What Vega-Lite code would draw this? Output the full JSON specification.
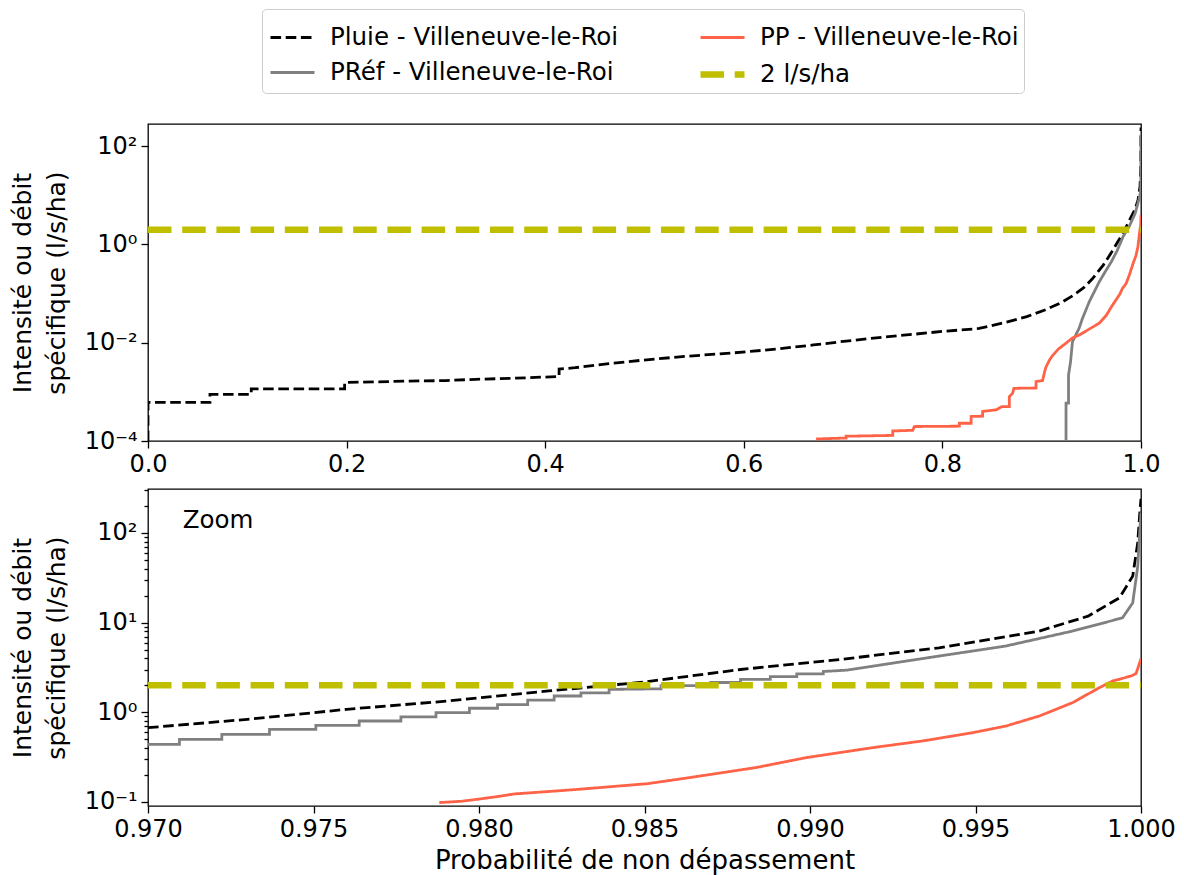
{
  "$schema": "https://vega.github.io/schema/vega-lite/v6.json",
  "background": "white",
  "padding": {"left": 9, "top": 7, "right": 10, "bottom": 4},
  "spacing": 48,
  "bounds": "flush",
  "datasets": {
    "top": [
      {"p": 0, "v": 0.0001, "s": "Pluie - Villeneuve-le-Roi"},
      {"p": 0.00001, "v": 0.00061, "s": "Pluie - Villeneuve-le-Roi"},
      {"p": 0.0624, "v": 0.00061, "s": "Pluie - Villeneuve-le-Roi"},
      {"p": 0.06241, "v": 0.00089, "s": "Pluie - Villeneuve-le-Roi"},
      {"p": 0.104, "v": 0.00089, "s": "Pluie - Villeneuve-le-Roi"},
      {"p": 0.10401, "v": 0.00115, "s": "Pluie - Villeneuve-le-Roi"},
      {"p": 0.198, "v": 0.00115, "s": "Pluie - Villeneuve-le-Roi"},
      {"p": 0.19801, "v": 0.00155, "s": "Pluie - Villeneuve-le-Roi"},
      {"p": 0.26, "v": 0.00165, "s": "Pluie - Villeneuve-le-Roi"},
      {"p": 0.30, "v": 0.0017, "s": "Pluie - Villeneuve-le-Roi"},
      {"p": 0.33, "v": 0.0018, "s": "Pluie - Villeneuve-le-Roi"},
      {"p": 0.37, "v": 0.0019, "s": "Pluie - Villeneuve-le-Roi"},
      {"p": 0.414, "v": 0.00205, "s": "Pluie - Villeneuve-le-Roi"},
      {"p": 0.41401, "v": 0.0029, "s": "Pluie - Villeneuve-le-Roi"},
      {"p": 0.43, "v": 0.0031, "s": "Pluie - Villeneuve-le-Roi"},
      {"p": 0.462, "v": 0.0037, "s": "Pluie - Villeneuve-le-Roi"},
      {"p": 0.502, "v": 0.0045, "s": "Pluie - Villeneuve-le-Roi"},
      {"p": 0.542, "v": 0.0053, "s": "Pluie - Villeneuve-le-Roi"},
      {"p": 0.589, "v": 0.0062, "s": "Pluie - Villeneuve-le-Roi"},
      {"p": 0.632, "v": 0.0074, "s": "Pluie - Villeneuve-le-Roi"},
      {"p": 0.67, "v": 0.009, "s": "Pluie - Villeneuve-le-Roi"},
      {"p": 0.703, "v": 0.0108, "s": "Pluie - Villeneuve-le-Roi"},
      {"p": 0.74, "v": 0.013, "s": "Pluie - Villeneuve-le-Roi"},
      {"p": 0.77, "v": 0.0148, "s": "Pluie - Villeneuve-le-Roi"},
      {"p": 0.80, "v": 0.017, "s": "Pluie - Villeneuve-le-Roi"},
      {"p": 0.837, "v": 0.0195, "s": "Pluie - Villeneuve-le-Roi"},
      {"p": 0.864, "v": 0.026, "s": "Pluie - Villeneuve-le-Roi"},
      {"p": 0.885, "v": 0.034, "s": "Pluie - Villeneuve-le-Roi"},
      {"p": 0.904, "v": 0.047, "s": "Pluie - Villeneuve-le-Roi"},
      {"p": 0.92, "v": 0.066, "s": "Pluie - Villeneuve-le-Roi"},
      {"p": 0.931, "v": 0.09, "s": "Pluie - Villeneuve-le-Roi"},
      {"p": 0.942, "v": 0.13, "s": "Pluie - Villeneuve-le-Roi"},
      {"p": 0.951, "v": 0.2, "s": "Pluie - Villeneuve-le-Roi"},
      {"p": 0.962, "v": 0.38, "s": "Pluie - Villeneuve-le-Roi"},
      {"p": 0.97, "v": 0.674, "s": "Pluie - Villeneuve-le-Roi"},
      {"p": 0.976, "v": 1.08, "s": "Pluie - Villeneuve-le-Roi"},
      {"p": 0.982, "v": 1.72, "s": "Pluie - Villeneuve-le-Roi"},
      {"p": 0.988, "v": 3.0, "s": "Pluie - Villeneuve-le-Roi"},
      {"p": 0.994, "v": 5.2, "s": "Pluie - Villeneuve-le-Roi"},
      {"p": 0.997, "v": 8.0, "s": "Pluie - Villeneuve-le-Roi"},
      {"p": 0.999, "v": 15, "s": "Pluie - Villeneuve-le-Roi"},
      {"p": 0.9998, "v": 40, "s": "Pluie - Villeneuve-le-Roi"},
      {"p": 1.0, "v": 240, "s": "Pluie - Villeneuve-le-Roi"},

      {"p": 0.9245, "v": 0.0001, "s": "PRéf - Villeneuve-le-Roi"},
      {"p": 0.92451, "v": 0.00059, "s": "PRéf - Villeneuve-le-Roi"},
      {"p": 0.927, "v": 0.00059, "s": "PRéf - Villeneuve-le-Roi"},
      {"p": 0.92701, "v": 0.0022, "s": "PRéf - Villeneuve-le-Roi"},
      {"p": 0.929, "v": 0.004, "s": "PRéf - Villeneuve-le-Roi"},
      {"p": 0.931, "v": 0.0105, "s": "PRéf - Villeneuve-le-Roi"},
      {"p": 0.934, "v": 0.014, "s": "PRéf - Villeneuve-le-Roi"},
      {"p": 0.9376, "v": 0.0195, "s": "PRéf - Villeneuve-le-Roi"},
      {"p": 0.941, "v": 0.031, "s": "PRéf - Villeneuve-le-Roi"},
      {"p": 0.948, "v": 0.069, "s": "PRéf - Villeneuve-le-Roi"},
      {"p": 0.958, "v": 0.174, "s": "PRéf - Villeneuve-le-Roi"},
      {"p": 0.964, "v": 0.28, "s": "PRéf - Villeneuve-le-Roi"},
      {"p": 0.97, "v": 0.44, "s": "PRéf - Villeneuve-le-Roi"},
      {"p": 0.976, "v": 0.75, "s": "PRéf - Villeneuve-le-Roi"},
      {"p": 0.982, "v": 1.45, "s": "PRéf - Villeneuve-le-Roi"},
      {"p": 0.988, "v": 2.3, "s": "PRéf - Villeneuve-le-Roi"},
      {"p": 0.994, "v": 4.24, "s": "PRéf - Villeneuve-le-Roi"},
      {"p": 0.998, "v": 8.3, "s": "PRéf - Villeneuve-le-Roi"},
      {"p": 0.9995, "v": 11.5, "s": "PRéf - Villeneuve-le-Roi"},
      {"p": 0.9998, "v": 17, "s": "PRéf - Villeneuve-le-Roi"},
      {"p": 0.9999, "v": 42, "s": "PRéf - Villeneuve-le-Roi"},
      {"p": 1.0, "v": 170, "s": "PRéf - Villeneuve-le-Roi"},

      {"p": 0.6728, "v": 0.00011, "s": "PP - Villeneuve-le-Roi"},
      {"p": 0.703, "v": 0.000115, "s": "PP - Villeneuve-le-Roi"},
      {"p": 0.70301, "v": 0.000125, "s": "PP - Villeneuve-le-Roi"},
      {"p": 0.75, "v": 0.00013, "s": "PP - Villeneuve-le-Roi"},
      {"p": 0.75001, "v": 0.00016, "s": "PP - Villeneuve-le-Roi"},
      {"p": 0.7701, "v": 0.000165, "s": "PP - Villeneuve-le-Roi"},
      {"p": 0.7718, "v": 0.000197, "s": "PP - Villeneuve-le-Roi"},
      {"p": 0.8171, "v": 0.0002, "s": "PP - Villeneuve-le-Roi"},
      {"p": 0.81711, "v": 0.00023, "s": "PP - Villeneuve-le-Roi"},
      {"p": 0.8289, "v": 0.00023, "s": "PP - Villeneuve-le-Roi"},
      {"p": 0.82891, "v": 0.000315, "s": "PP - Villeneuve-le-Roi"},
      {"p": 0.8405, "v": 0.00032, "s": "PP - Villeneuve-le-Roi"},
      {"p": 0.84051, "v": 0.0004, "s": "PP - Villeneuve-le-Roi"},
      {"p": 0.854, "v": 0.00043, "s": "PP - Villeneuve-le-Roi"},
      {"p": 0.86, "v": 0.0005, "s": "PP - Villeneuve-le-Roi"},
      {"p": 0.8674, "v": 0.0005, "s": "PP - Villeneuve-le-Roi"},
      {"p": 0.86741, "v": 0.0008, "s": "PP - Villeneuve-le-Roi"},
      {"p": 0.8707, "v": 0.00094, "s": "PP - Villeneuve-le-Roi"},
      {"p": 0.872, "v": 0.00118, "s": "PP - Villeneuve-le-Roi"},
      {"p": 0.8943, "v": 0.0012, "s": "PP - Villeneuve-le-Roi"},
      {"p": 0.89431, "v": 0.00162, "s": "PP - Villeneuve-le-Roi"},
      {"p": 0.9009, "v": 0.0017, "s": "PP - Villeneuve-le-Roi"},
      {"p": 0.903, "v": 0.0026, "s": "PP - Villeneuve-le-Roi"},
      {"p": 0.9043, "v": 0.0032, "s": "PP - Villeneuve-le-Roi"},
      {"p": 0.908, "v": 0.0045, "s": "PP - Villeneuve-le-Roi"},
      {"p": 0.911, "v": 0.0055, "s": "PP - Villeneuve-le-Roi"},
      {"p": 0.917, "v": 0.0075, "s": "PP - Villeneuve-le-Roi"},
      {"p": 0.9245, "v": 0.0098, "s": "PP - Villeneuve-le-Roi"},
      {"p": 0.931, "v": 0.0125, "s": "PP - Villeneuve-le-Roi"},
      {"p": 0.9379, "v": 0.0144, "s": "PP - Villeneuve-le-Roi"},
      {"p": 0.948, "v": 0.019, "s": "PP - Villeneuve-le-Roi"},
      {"p": 0.958, "v": 0.025, "s": "PP - Villeneuve-le-Roi"},
      {"p": 0.965, "v": 0.036, "s": "PP - Villeneuve-le-Roi"},
      {"p": 0.97, "v": 0.053, "s": "PP - Villeneuve-le-Roi"},
      {"p": 0.9788, "v": 0.0985, "s": "PP - Villeneuve-le-Roi"},
      {"p": 0.98107, "v": 0.125, "s": "PP - Villeneuve-le-Roi"},
      {"p": 0.985, "v": 0.16, "s": "PP - Villeneuve-le-Roi"},
      {"p": 0.98837, "v": 0.242, "s": "PP - Villeneuve-le-Roi"},
      {"p": 0.9919, "v": 0.404, "s": "PP - Villeneuve-le-Roi"},
      {"p": 0.99492, "v": 0.593, "s": "PP - Villeneuve-le-Roi"},
      {"p": 0.99693, "v": 0.91, "s": "PP - Villeneuve-le-Roi"},
      {"p": 0.99874, "v": 1.88, "s": "PP - Villeneuve-le-Roi"},
      {"p": 0.9997, "v": 2.54, "s": "PP - Villeneuve-le-Roi"},
      {"p": 1.0, "v": 3.95, "s": "PP - Villeneuve-le-Roi"},

      {"p": 0, "v": 2, "s": "2 l/s/ha"},
      {"p": 1, "v": 2, "s": "2 l/s/ha"}
    ],
    "zoom": [
      {"p": 0.97, "v": 0.674, "s": "Pluie - Villeneuve-le-Roi"},
      {"p": 0.973, "v": 0.834, "s": "Pluie - Villeneuve-le-Roi"},
      {"p": 0.976, "v": 1.08, "s": "Pluie - Villeneuve-le-Roi"},
      {"p": 0.979, "v": 1.33, "s": "Pluie - Villeneuve-le-Roi"},
      {"p": 0.9821, "v": 1.73, "s": "Pluie - Villeneuve-le-Roi"},
      {"p": 0.985, "v": 2.18, "s": "Pluie - Villeneuve-le-Roi"},
      {"p": 0.9879, "v": 3.0, "s": "Pluie - Villeneuve-le-Roi"},
      {"p": 0.9909, "v": 3.88, "s": "Pluie - Villeneuve-le-Roi"},
      {"p": 0.9939, "v": 5.24, "s": "Pluie - Villeneuve-le-Roi"},
      {"p": 0.9969, "v": 8.0, "s": "Pluie - Villeneuve-le-Roi"},
      {"p": 0.9984, "v": 11.8, "s": "Pluie - Villeneuve-le-Roi"},
      {"p": 0.99935, "v": 18.9, "s": "Pluie - Villeneuve-le-Roi"},
      {"p": 0.99975, "v": 33, "s": "Pluie - Villeneuve-le-Roi"},
      {"p": 0.9999, "v": 77, "s": "Pluie - Villeneuve-le-Roi"},
      {"p": 0.99996, "v": 160, "s": "Pluie - Villeneuve-le-Roi"},
      {"p": 1.0, "v": 240, "s": "Pluie - Villeneuve-le-Roi"},

      {"p": 0.97, "v": 0.44, "s": "PRéf - Villeneuve-le-Roi"},
      {"p": 0.97095, "v": 0.44, "s": "PRéf - Villeneuve-le-Roi"},
      {"p": 0.970951, "v": 0.50, "s": "PRéf - Villeneuve-le-Roi"},
      {"p": 0.97223, "v": 0.50, "s": "PRéf - Villeneuve-le-Roi"},
      {"p": 0.972231, "v": 0.568, "s": "PRéf - Villeneuve-le-Roi"},
      {"p": 0.97367, "v": 0.568, "s": "PRéf - Villeneuve-le-Roi"},
      {"p": 0.973671, "v": 0.645, "s": "PRéf - Villeneuve-le-Roi"},
      {"p": 0.97507, "v": 0.645, "s": "PRéf - Villeneuve-le-Roi"},
      {"p": 0.975071, "v": 0.715, "s": "PRéf - Villeneuve-le-Roi"},
      {"p": 0.97638, "v": 0.715, "s": "PRéf - Villeneuve-le-Roi"},
      {"p": 0.976381, "v": 0.80, "s": "PRéf - Villeneuve-le-Roi"},
      {"p": 0.97764, "v": 0.80, "s": "PRéf - Villeneuve-le-Roi"},
      {"p": 0.977641, "v": 0.89, "s": "PRéf - Villeneuve-le-Roi"},
      {"p": 0.9787, "v": 0.89, "s": "PRéf - Villeneuve-le-Roi"},
      {"p": 0.978701, "v": 0.99, "s": "PRéf - Villeneuve-le-Roi"},
      {"p": 0.97971, "v": 0.99, "s": "PRéf - Villeneuve-le-Roi"},
      {"p": 0.979711, "v": 1.11, "s": "PRéf - Villeneuve-le-Roi"},
      {"p": 0.98056, "v": 1.11, "s": "PRéf - Villeneuve-le-Roi"},
      {"p": 0.980561, "v": 1.22, "s": "PRéf - Villeneuve-le-Roi"},
      {"p": 0.98147, "v": 1.22, "s": "PRéf - Villeneuve-le-Roi"},
      {"p": 0.981471, "v": 1.37, "s": "PRéf - Villeneuve-le-Roi"},
      {"p": 0.98227, "v": 1.37, "s": "PRéf - Villeneuve-le-Roi"},
      {"p": 0.982271, "v": 1.52, "s": "PRéf - Villeneuve-le-Roi"},
      {"p": 0.98308, "v": 1.52, "s": "PRéf - Villeneuve-le-Roi"},
      {"p": 0.983081, "v": 1.65, "s": "PRéf - Villeneuve-le-Roi"},
      {"p": 0.98393, "v": 1.65, "s": "PRéf - Villeneuve-le-Roi"},
      {"p": 0.983931, "v": 1.8, "s": "PRéf - Villeneuve-le-Roi"},
      {"p": 0.9855, "v": 1.83, "s": "PRéf - Villeneuve-le-Roi"},
      {"p": 0.985501, "v": 1.98, "s": "PRéf - Villeneuve-le-Roi"},
      {"p": 0.987, "v": 1.98, "s": "PRéf - Villeneuve-le-Roi"},
      {"p": 0.987001, "v": 2.15, "s": "PRéf - Villeneuve-le-Roi"},
      {"p": 0.9879, "v": 2.15, "s": "PRéf - Villeneuve-le-Roi"},
      {"p": 0.987901, "v": 2.33, "s": "PRéf - Villeneuve-le-Roi"},
      {"p": 0.9888, "v": 2.33, "s": "PRéf - Villeneuve-le-Roi"},
      {"p": 0.988801, "v": 2.5, "s": "PRéf - Villeneuve-le-Roi"},
      {"p": 0.9896, "v": 2.5, "s": "PRéf - Villeneuve-le-Roi"},
      {"p": 0.989601, "v": 2.68, "s": "PRéf - Villeneuve-le-Roi"},
      {"p": 0.9904, "v": 2.68, "s": "PRéf - Villeneuve-le-Roi"},
      {"p": 0.990401, "v": 2.85, "s": "PRéf - Villeneuve-le-Roi"},
      {"p": 0.9911, "v": 2.95, "s": "PRéf - Villeneuve-le-Roi"},
      {"p": 0.9919, "v": 3.27, "s": "PRéf - Villeneuve-le-Roi"},
      {"p": 0.9939, "v": 4.24, "s": "PRéf - Villeneuve-le-Roi"},
      {"p": 0.9959, "v": 5.47, "s": "PRéf - Villeneuve-le-Roi"},
      {"p": 0.9979, "v": 8.0, "s": "PRéf - Villeneuve-le-Roi"},
      {"p": 0.9989, "v": 10.0, "s": "PRéf - Villeneuve-le-Roi"},
      {"p": 0.99944, "v": 11.3, "s": "PRéf - Villeneuve-le-Roi"},
      {"p": 0.99975, "v": 16.6, "s": "PRéf - Villeneuve-le-Roi"},
      {"p": 0.9999, "v": 42, "s": "PRéf - Villeneuve-le-Roi"},
      {"p": 0.99996, "v": 100, "s": "PRéf - Villeneuve-le-Roi"},
      {"p": 1.0, "v": 170, "s": "PRéf - Villeneuve-le-Roi"},

      {"p": 0.9788, "v": 0.0985, "s": "PP - Villeneuve-le-Roi"},
      {"p": 0.9795, "v": 0.102, "s": "PP - Villeneuve-le-Roi"},
      {"p": 0.9805, "v": 0.114, "s": "PP - Villeneuve-le-Roi"},
      {"p": 0.98107, "v": 0.123, "s": "PP - Villeneuve-le-Roi"},
      {"p": 0.982, "v": 0.13, "s": "PP - Villeneuve-le-Roi"},
      {"p": 0.98307, "v": 0.139, "s": "PP - Villeneuve-le-Roi"},
      {"p": 0.98509, "v": 0.16, "s": "PP - Villeneuve-le-Roi"},
      {"p": 0.98636, "v": 0.187, "s": "PP - Villeneuve-le-Roi"},
      {"p": 0.98837, "v": 0.242, "s": "PP - Villeneuve-le-Roi"},
      {"p": 0.98988, "v": 0.312, "s": "PP - Villeneuve-le-Roi"},
      {"p": 0.9919, "v": 0.404, "s": "PP - Villeneuve-le-Roi"},
      {"p": 0.9934, "v": 0.479, "s": "PP - Villeneuve-le-Roi"},
      {"p": 0.99492, "v": 0.593, "s": "PP - Villeneuve-le-Roi"},
      {"p": 0.99592, "v": 0.703, "s": "PP - Villeneuve-le-Roi"},
      {"p": 0.99693, "v": 0.91, "s": "PP - Villeneuve-le-Roi"},
      {"p": 0.99793, "v": 1.28, "s": "PP - Villeneuve-le-Roi"},
      {"p": 0.99874, "v": 1.88, "s": "PP - Villeneuve-le-Roi"},
      {"p": 0.99914, "v": 2.23, "s": "PP - Villeneuve-le-Roi"},
      {"p": 0.9997, "v": 2.54, "s": "PP - Villeneuve-le-Roi"},
      {"p": 0.99985, "v": 2.7, "s": "PP - Villeneuve-le-Roi"},
      {"p": 1.0, "v": 3.95, "s": "PP - Villeneuve-le-Roi"},

      {"p": 0.97, "v": 2, "s": "2 l/s/ha"},
      {"p": 1.0, "v": 2, "s": "2 l/s/ha"}
    ]
  },
  "vconcat": [
    {
      "width": 993,
      "height": 317,
      "data": {"name": "top"},
      "mark": {"type": "line", "clip": true},
      "encoding": {
        "x": {
          "field": "p", "type": "quantitative",
          "scale": {"domain": [0, 1], "nice": false, "zero": false},
          "axis": {"values": [0, 0.2, 0.4, 0.6, 0.8, 1.0], "format": ".1f", "title": null}
        },
        "y": {
          "field": "v", "type": "quantitative",
          "scale": {"type": "log", "domain": [0.0001, 283], "nice": false},
          "axis": {
            "values": [0.0001, 0.01, 1, 100],
            "labelExpr": "datum.value == 100 ? '10²' : datum.value == 1 ? '10⁰' : datum.value == 0.01 ? '10⁻²' : datum.value == 0.0001 ? '10⁻⁴' : ''",
            "title": ["Intensité ou débit", "spécifique (l/s/ha)"]
          }
        },
        "color": {
          "field": "s", "type": "nominal",
          "scale": {"domain": ["Pluie - Villeneuve-le-Roi", "PRéf - Villeneuve-le-Roi", "PP - Villeneuve-le-Roi", "2 l/s/ha"], "range": ["#000000", "#808080", "#ff6347", "#bfbf00"]},
          "legend": {"title": null}
        },
        "strokeDash": {
          "field": "s", "type": "nominal",
          "scale": {"domain": ["Pluie - Villeneuve-le-Roi", "PRéf - Villeneuve-le-Roi", "PP - Villeneuve-le-Roi", "2 l/s/ha"], "range": [[10.6, 4.6], [1, 0], [1, 0], [23.5, 10.7]]},
          "legend": {"title": null}
        },
        "strokeWidth": {
          "field": "s", "type": "nominal",
          "scale": {"type": "ordinal", "domain": ["Pluie - Villeneuve-le-Roi", "PRéf - Villeneuve-le-Roi", "PP - Villeneuve-le-Roi", "2 l/s/ha"], "range": [2.8, 2.8, 2.8, 6.5]},
          "legend": {"title": null}
        }
      }
    },
    {
      "width": 993,
      "height": 317,
      "layer": [
        {
          "data": {"name": "zoom"},
          "mark": {"type": "line", "clip": true},
          "encoding": {
            "x": {
              "field": "p", "type": "quantitative",
              "scale": {"domain": [0.97, 1.0], "nice": false, "zero": false},
              "axis": {"values": [0.97, 0.975, 0.98, 0.985, 0.99, 0.995, 1.0], "format": ".3f", "title": "Probabilité de non dépassement", "titleFontSize": 26, "titlePadding": 6}
            },
            "y": {
              "field": "v", "type": "quantitative",
              "scale": {"type": "log", "domain": [0.0902, 309], "nice": false},
              "axis": {
                "values": [0.1, 0.2, 0.3, 0.4, 0.5, 0.6, 0.7, 0.8, 0.9, 1, 2, 3, 4, 5, 6, 7, 8, 9, 10, 20, 30, 40, 50, 60, 70, 80, 90, 100, 200, 300],
                "labelExpr": "datum.value == 100 ? '10²' : datum.value == 10 ? '10¹' : datum.value == 1 ? '10⁰' : datum.value == 0.1 ? '10⁻¹' : ''",
                "tickSize": {"condition": {"test": "datum.value == 100 || datum.value == 10 || datum.value == 1 || datum.value == 0.1", "value": 7}, "value": 4},
                "title": ["Intensité ou débit", "spécifique (l/s/ha)"]
              }
            },
            "color": {
              "field": "s", "type": "nominal",
              "scale": {"domain": ["Pluie - Villeneuve-le-Roi", "PRéf - Villeneuve-le-Roi", "PP - Villeneuve-le-Roi", "2 l/s/ha"], "range": ["#000000", "#808080", "#ff6347", "#bfbf00"]},
              "legend": null
            },
            "strokeDash": {
              "field": "s", "type": "nominal",
              "scale": {"domain": ["Pluie - Villeneuve-le-Roi", "PRéf - Villeneuve-le-Roi", "PP - Villeneuve-le-Roi", "2 l/s/ha"], "range": [[10.6, 4.6], [1, 0], [1, 0], [23.5, 10.7]]},
              "legend": null
            },
            "strokeWidth": {
              "field": "s", "type": "nominal",
              "scale": {"type": "ordinal", "domain": ["Pluie - Villeneuve-le-Roi", "PRéf - Villeneuve-le-Roi", "PP - Villeneuve-le-Roi", "2 l/s/ha"], "range": [2.8, 2.8, 2.8, 6.5]},
              "legend": null
            }
          }
        },
        {
          "data": {"values": [{}]},
          "mark": {"type": "text", "align": "left", "baseline": "middle", "fontSize": 24.5, "font": "DejaVu Sans", "color": "black"},
          "encoding": {
            "x": {"datum": 0.97105},
            "y": {"datum": 136},
            "text": {"value": "Zoom"}
          }
        }
      ]
    }
  ],
  "resolve": {"scale": {"x": "independent", "y": "independent", "color": "independent", "strokeDash": "independent", "strokeWidth": "independent"}, "legend": {"color": "independent", "strokeDash": "independent", "strokeWidth": "independent"}},
  "config": {
    "font": "DejaVu Sans",
    "view": {"stroke": "black", "strokeWidth": 1.3},
    "axis": {
      "domain": false, "grid": false,
      "tickColor": "black", "tickWidth": 1.3, "tickSize": 7,
      "labelColor": "black", "labelFontSize": 24, "labelPadding": 4, "labelFont": "DejaVu Sans",
      "labelOverlap": false, "labelBound": false, "labelFlush": false,
      "titleColor": "black", "titleFontSize": 25, "titleFontWeight": "normal", "titleFont": "DejaVu Sans"
    },
    "axisY": {"titlePadding": 15, "titleLineHeight": 34},
    "legend": {
      "orient": "none", "legendX": 114, "legendY": -115,
      "columns": 2, "strokeColor": "#cccccc", "cornerRadius": 4, "padding": 5, "fillColor": "white",
      "symbolType": "stroke", "symbolSize": 1936,
      "labelFontSize": 24.5, "labelFont": "DejaVu Sans", "labelColor": "black", "labelOffset": 12, "labelLimit": 600,
      "columnPadding": 68, "rowPadding": 0
    }
  }
}
